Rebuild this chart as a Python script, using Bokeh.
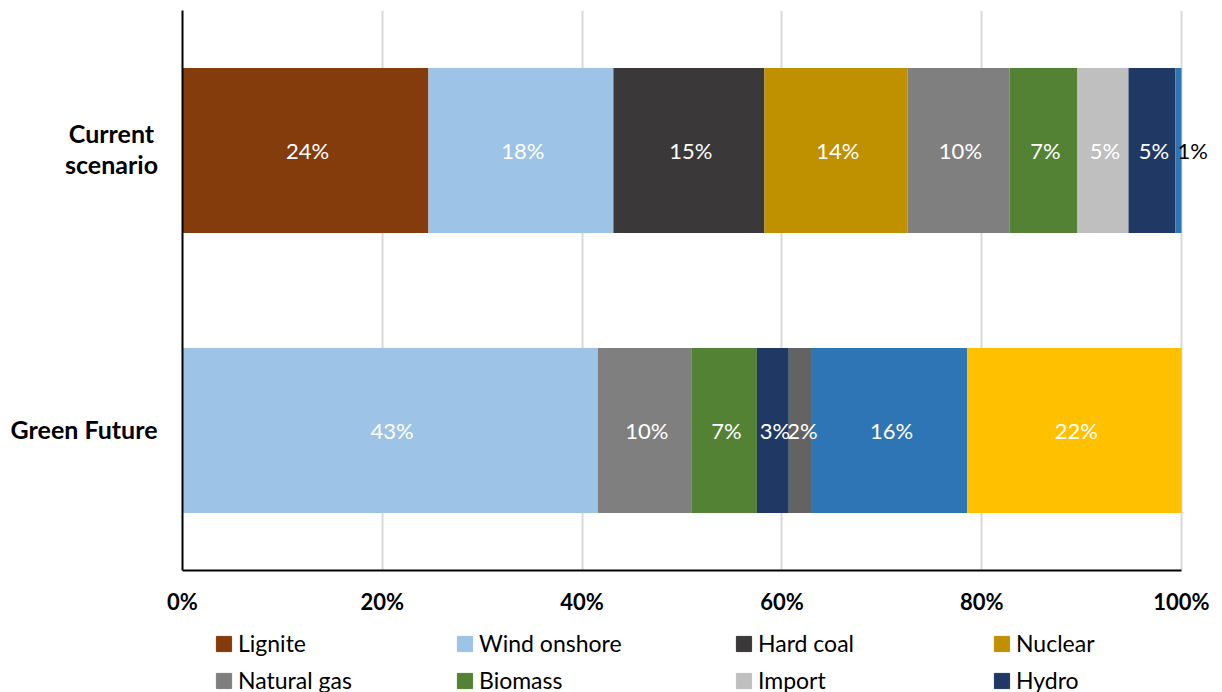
from bokeh.plotting import figure
from bokeh.layouts import column, row
from bokeh.models import (ColumnDataSource, Legend, LegendItem, Range1d,
                          NumeralTickFormatter, FixedTicker)
from bokeh.embed import file_html
from bokeh.resources import INLINE
from bokeh.core.properties import value

# Electricity generation mix (shares in %, as published per scenario)
scenarios = ["Current scenario", "Green Future"]
scenario_labels = ["Current\nscenario", "Green Future"]
sources = ["Lignite", "Wind onshore", "Hard coal", "Nuclear", "Natural gas", "Biomass",
           "Import", "Hydro", "Other", "Wind offshore", "Solar PV"]
colors = ["#843C0C", "#9DC3E6", "#3A3838", "#BF9000", "#7F7F7F", "#548235",
          "#BFBFBF", "#203864", "#636363", "#2E75B6", "#FFC000"]
current = [24.4, 18.35, 14.98, 14.19, 10.12, 6.75, 5.06, 4.66, 0.0, 0.6, 0.0]
green = [0.0, 43.0, 0.0, 0.0, 9.74, 6.73, 0.0, 3.3, 2.4, 16.06, 22.2]
x_ticks = [0.0, 0.2, 0.4, 0.6, 0.8, 1.0]
legend_columns = [["Lignite", "Natural gas"], ["Wind onshore", "Biomass"],
                  ["Hard coal", "Import"], ["Nuclear", "Hydro"]]

FONT = "Lato"
W, H = 1222, 692
CHART_H = 625                 # chart row height; the legend strip fills the rest
TOP, BOTTOM = 10, 55          # frame borders of the chart row
LABEL_W = 160                 # width of the category-label strip
AXIS_PAD = 22                 # gap between label strip and the value axis
SCALE_W = 999                 # pixels spanned by 0 % .. 100 %

# one row per scenario, first scenario on top
n = len(scenarios)
ypos = {s: n - i - 0.5 for i, s in enumerate(scenarios)}

# 100 % stacked: normalise each scenario by its own total
series = {"Current scenario": current, "Green Future": green}
data = {"y": [ypos[s] for s in scenarios]}
for i, name in enumerate(sources):
    data[name] = [series[s][i] / sum(series[s]) for s in scenarios]
source = ColumnDataSource(data)

# data labels at the centre of each segment (tiny segments: label starts at the segment)
lx, ly, lt, lc, la = [], [], [], [], []
for s in scenarios:
    vals = series[s]
    total = sum(vals)
    left = 0.0
    for v in vals:
        share = v / total
        if v > 0:
            if share < 0.01:
                lx.append(left)
                la.append("left")
                lc.append("#000000")
            else:
                lx.append(left + share / 2)
                la.append("center")
                lc.append("#FFFFFF")
            ly.append(ypos[s])
            lt.append("%.0f%%" % v)
        left += share
labels_src = ColumnDataSource(dict(x=lx, y=ly, text=lt, color=lc, align=la))

y_range = Range1d(0, n)

# ---- main chart -------------------------------------------------------------
main_w = W - LABEL_W
frame_w = main_w - AXIS_PAD
p = figure(width=main_w, height=CHART_H, output_backend="svg", toolbar_location=None,
           y_range=y_range, x_range=Range1d(0, frame_w / SCALE_W),
           min_border_left=AXIS_PAD, min_border_right=0, min_border_top=TOP,
           min_border_bottom=BOTTOM)
p.outline_line_color = None

p.hbar_stack(sources, y="y", height=0.59, color=colors, line_color=None, source=source)

p.text(x="x", y="y", text="text", source=labels_src, text_color="color",
       text_align="align", text_baseline="middle", text_font=value(FONT),
       text_font_size="22px", x_offset=2)

p.xaxis.ticker = FixedTicker(ticks=x_ticks)
p.xaxis.formatter = NumeralTickFormatter(format="0%")
p.xaxis.bounds = (0, 1)
p.yaxis.ticker = FixedTicker(ticks=[])
for ax in (p.xaxis[0], p.yaxis[0]):
    ax.axis_line_color = "#000000"
    ax.axis_line_width = 2
    ax.major_tick_line_color = None
    ax.minor_tick_line_color = None
    ax.major_tick_out = 0
    ax.major_tick_in = 0
    ax.major_label_text_font = FONT
    ax.major_label_text_font_style = "bold"
    ax.major_label_text_font_size = "22px"
    ax.major_label_text_color = "#000000"
p.xaxis.major_label_standoff = 17
p.yaxis.major_label_standoff = 0

p.xgrid.grid_line_color = "#D9D9D9"
p.xgrid.grid_line_width = 2
p.ygrid.grid_line_color = None

# ---- category labels ----------------------------------------------------------
lab = figure(width=LABEL_W, height=CHART_H, output_backend="svg", toolbar_location=None,
             y_range=y_range, x_range=Range1d(0, LABEL_W),
             min_border_left=0, min_border_right=0, min_border_top=TOP,
             min_border_bottom=BOTTOM)
lab.axis.visible = False
lab.grid.grid_line_color = None
lab.outline_line_color = None
cat_src = ColumnDataSource(dict(y=[ypos[s] for s in scenarios], text=scenario_labels,
                                x=[111, 157], align=["center", "right"]))
lab.text(x="x", y="y", text="text", source=cat_src, text_align="align",
         text_baseline="middle", text_font=value(FONT), text_font_style="bold",
         text_font_size="25px", text_color="#000000", text_line_height=1.05,
         y_offset=-2)

# ---- legend strip ---------------------------------------------------------------
leg_h = H - CHART_H
leg = figure(width=W, height=leg_h, output_backend="svg", toolbar_location=None,
             x_range=Range1d(0, W), y_range=Range1d(0, leg_h),
             min_border_left=0, min_border_right=0, min_border_top=0, min_border_bottom=0)
leg.axis.visible = False
leg.grid.grid_line_color = None
leg.outline_line_color = None
# key swatches: one bar per source, parked below the visible strip
swatches = {s: leg.hbar(y=[-leg_h], right=[1], height=1, color=c)
            for s, c in zip(sources, colors)}

col_x = [214, 455, 734, 992]
for cx, names in zip(col_x, legend_columns):
    items = [LegendItem(label=s, renderers=[swatches[s]]) for s in names]
    lg = Legend(items=items, location=(cx, -2), orientation="vertical",
                glyph_width=19, glyph_height=19, label_standoff=5,
                label_text_font=FONT, label_text_font_size="23px",
                label_text_color="#000000", spacing=9, padding=0, margin=0,
                border_line_color=None, background_fill_alpha=0)
    leg.add_layout(lg, "center")

layout = column(row(lab, p), leg)
open("out.html", "w").write(file_html(layout, INLINE))
